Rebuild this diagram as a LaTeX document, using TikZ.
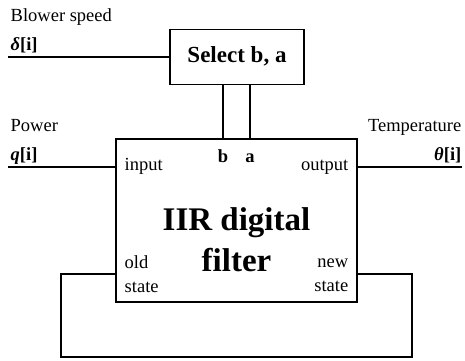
\documentclass[tikz,border=0pt]{standalone}
\usepackage{fontspec}
\setmainfont{Liberation Serif}
\usetikzlibrary{positioning}

\begin{document}
\begin{tikzpicture}[x=1pt,y=-1pt,line width=1.4pt,
    small/.style={font=\fontsize{18.5}{24}\selectfont, inner sep=0pt},
    sig/.style={font=\fontsize{18.5}{24}\selectfont\bfseries, inner sep=0pt},
    coef/.style={font=\fontsize{18.5}{24}\selectfont\bfseries, inner sep=0pt, anchor=base}]
   \useasboundingbox (0,0) rectangle (465,360);

   \node[draw, minimum width=134pt, minimum height=55pt,
         font=\fontsize{23}{28}\selectfont\bfseries] (select) at (237,56.7) {Select b, a};
   \node[draw, minimum width=241pt, minimum height=163pt] (filter) at (236.5,220.3) {};

   \node[font=\fontsize{33}{40}\selectfont\bfseries, inner sep=0pt, anchor=base] (iir) at (236.5,230) {IIR digital};
   \node[font=\fontsize{33}{40}\selectfont\bfseries, inner sep=0pt, anchor=base] (flt) at (236.5,271) {filter};

   % signals outside
   \node[small, anchor=base west] (blower) at (10,21.5)  {Blower speed};
   \node[sig,   anchor=base west] (delta)  at (10,50)    {\textit{δ}[i]};
   \node[small, anchor=base west] (power)  at (10,131.7) {Power};
   \node[sig,   anchor=base west] (qsig)   at (10,160)   {\textit{q}[i]};
   \node[small, anchor=base east] (temp)   at (462,131.7) {Temperature};
   \node[sig,   anchor=base east] (theta)  at (462,160)  {\textit{θ}[i]};

   % ports of the filter
   \node[small, anchor=base west] (input)  at (124,170) {input};
   \node[small, anchor=base east] (output) at (349,170) {output};
   \node[coef] (bcoef) at (223,162) {b};
   \node[coef] (acoef) at (250,162) {a};
   \node[small, anchor=north west, align=left]  (old) at (124,255) {old\\state};
   \node[small, anchor=north east, align=right] (new) at (349,258) {new\\state};

   \coordinate (bin)   at (8,57);
   \coordinate (pin)   at (8,167);
   \coordinate (tout)  at (462,167);
   \coordinate (loopl) at (61,274);
   \coordinate (loopr) at (412,357);

   \draw (bin) -- (bin -| select.west);
   \draw (pin) -- (pin -| filter.west);
   \draw (filter.east |- tout) -- (tout);
   \draw (bcoef |- select.south) -- (bcoef |- filter.north);
   \draw (acoef |- select.south) -- (acoef |- filter.north);
   \draw (filter.west |- loopl) -- (loopl) |- (loopr) |- (filter.east |- loopl);
\end{tikzpicture}
\end{document}
